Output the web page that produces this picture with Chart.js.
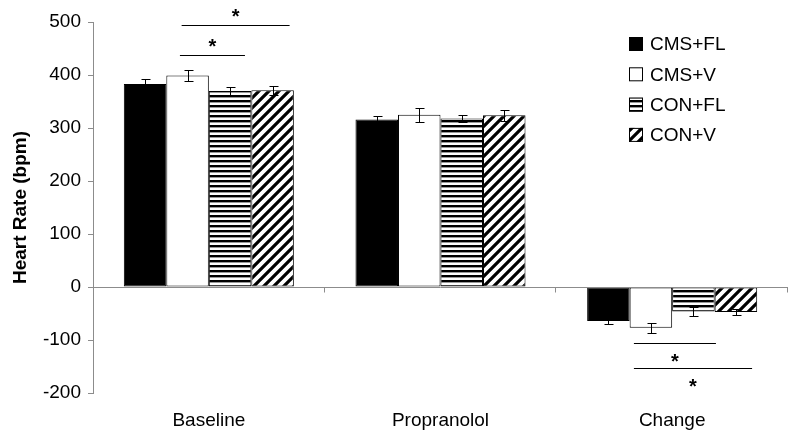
<!DOCTYPE html>
<html>
<head>
<meta charset="utf-8">
<script src="https://cdn.jsdelivr.net/npm/chart.js@4"></script>
<style>
  html, body { margin: 0; padding: 0; background: #fff; }
  #wrap { width: 800px; height: 439px; }
</style>
</head>
<body>
<div id="wrap"><canvas id="hr" width="800" height="439"></canvas></div>
<script>
const categories = ['Baseline', 'Propranolol', 'Change'];
const groupLabels = ['CMS+FL', 'CMS+V', 'CON+FL', 'CON+V'];

// mean heart rate (bpm) per group, in category order
const cmsFl = [383, 316, -64];
const cmsV = [399, 325, -77];
const conFl = [370, 318, -46];
const conV = [371, 324, -47];

// SEM per group
const cmsFlErr = [10, 6, 6];
const cmsVErr = [11, 13, 9];
const conFlErr = [7, 6, 8];
const conVErr = [9, 10, 6];

const yTicks = [-200, -100, 0, 100, 200, 300, 400, 500];

// significance brackets: category, span in bar slots (0..4 across a group), level in bpm
const sigBrackets = [
  { cat: 0, from: 1.32, to: 2.85, level: 437, side: 'above' },
  { cat: 0, from: 1.36, to: 3.9, level: 494, side: 'above' },
  { cat: 2, from: 1.1, to: 3.03, level: -105, side: 'below' },
  { cat: 2, from: 1.1, to: 3.88, level: -152, side: 'below' },
];

const AXIS_GRAY = '#8c8c8c';
const FONT = '"Liberation Sans", Arial, sans-serif';

function makePattern(kind) {
  const c = document.createElement('canvas');
  const ctx = c.getContext('2d');
  if (kind === 'hstripe') {
    c.width = 5; c.height = 5;
    ctx.fillStyle = '#fff';
    ctx.fillRect(0, 0, 5, 5);
    ctx.fillStyle = '#000';
    ctx.fillRect(0, 0, 5, 2.4);
  } else {
    const s = 10;
    c.width = s; c.height = s;
    ctx.fillStyle = '#fff';
    ctx.fillRect(0, 0, s, s);
    ctx.strokeStyle = '#000';
    ctx.lineWidth = 3.2;
    ctx.beginPath();
    ctx.moveTo(-s, s * 2); ctx.lineTo(s * 2, -s);
    ctx.moveTo(-s, s); ctx.lineTo(s, -s);
    ctx.moveTo(0, s * 2); ctx.lineTo(s * 2, 0);
    ctx.stroke();
  }
  return ctx.createPattern(c, 'repeat');
}

const fills = ['#000000', '#ffffff', makePattern('hstripe'), makePattern('diag')];
const series = [cmsFl, cmsV, conFl, conV];
const errs = [cmsFlErr, cmsVErr, conFlErr, conVErr];

// zero line with ticks at category boundaries
const zeroAxis = {
  id: 'zeroAxis',
  afterDatasetsDraw(chart) {
    const { ctx, chartArea: a, scales: { y } } = chart;
    const y0 = Math.round(y.getPixelForValue(0)) + 0.5;
    ctx.save();
    ctx.strokeStyle = AXIS_GRAY;
    ctx.lineWidth = 1;
    ctx.beginPath();
    ctx.moveTo(a.left, y0);
    ctx.lineTo(a.right, y0);
    const w = (a.right - a.left) / categories.length;
    for (let i = 1; i <= categories.length; i++) {
      const bx = Math.round(a.left + w * i) - 0.5;
      ctx.moveTo(bx, y0);
      ctx.lineTo(bx, y0 + 5);
    }
    ctx.stroke();
    ctx.restore();
  },
};

const errorBars = {
  id: 'errorBars',
  afterDatasetsDraw(chart) {
    const { ctx, scales: { y } } = chart;
    ctx.save();
    ctx.strokeStyle = '#000';
    ctx.lineWidth = 1;
    chart.data.datasets.forEach((ds, di) => {
      chart.getDatasetMeta(di).data.forEach((bar, i) => {
        const v = ds.data[i];
        const e = errs[di][i];
        const cx = Math.round(bar.x) + 0.5;
        const yHi = Math.round(y.getPixelForValue(v + e)) + 0.5;
        const yLo = Math.round(y.getPixelForValue(v - e)) + 0.5;
        ctx.beginPath();
        ctx.moveTo(cx, yHi); ctx.lineTo(cx, yLo);
        ctx.moveTo(cx - 4, yHi); ctx.lineTo(cx + 5, yHi);
        ctx.moveTo(cx - 4, yLo); ctx.lineTo(cx + 5, yLo);
        ctx.stroke();
      });
    });
    ctx.restore();
  },
};

const sigMarks = {
  id: 'sigMarks',
  afterDatasetsDraw(chart) {
    const { ctx, scales: { y } } = chart;
    const first = chart.getDatasetMeta(0).data;
    ctx.save();
    ctx.strokeStyle = '#000';
    ctx.fillStyle = '#000';
    ctx.lineWidth = 1;
    ctx.font = `bold 20px ${FONT}`;
    ctx.textAlign = 'center';
    sigBrackets.forEach((b) => {
      const bar = first[b.cat];
      const left = bar.x - bar.width / 2;
      const x1 = left + b.from * bar.width;
      const x2 = left + b.to * bar.width;
      const ly = Math.round(y.getPixelForValue(b.level)) + 0.5;
      ctx.beginPath();
      ctx.moveTo(x1, ly); ctx.lineTo(x2, ly);
      ctx.stroke();
      const sy = b.side === 'above' ? ly - 3 : ly + 24;
      ctx.fillText('*', (x1 + x2) / 2, sy);
    });
    ctx.restore();
  },
};

const boxLegend = {
  id: 'boxLegend',
  afterDraw(chart) {
    const { ctx } = chart;
    ctx.save();
    ctx.font = `19px ${FONT}`;
    ctx.textBaseline = 'middle';
    chart.data.datasets.forEach((ds, i) => {
      const cy = 44 + i * 30.3;
      ctx.fillStyle = ds.backgroundColor;
      ctx.fillRect(629, cy - 7, 14, 14);
      ctx.strokeStyle = '#000';
      ctx.lineWidth = 1;
      ctx.strokeRect(629.5, cy - 6.5, 13, 13);
      ctx.fillStyle = '#000';
      ctx.fillText(ds.label, 650, cy + 1);
    });
    ctx.restore();
  },
};

new Chart(document.getElementById('hr'), {
  type: 'bar',
  data: {
    labels: categories,
    datasets: groupLabels.map((label, i) => ({
      label,
      data: series[i],
      backgroundColor: fills[i],
      borderColor: '#000',
      borderWidth: 1,
      borderSkipped: false,
      barPercentage: 1,
      categoryPercentage: 0.734,
    })),
  },
  options: {
    responsive: false,
    animation: false,
    devicePixelRatio: 1,
    layout: { padding: { left: 9, right: 12, top: 22, bottom: 0 } },
    plugins: { legend: { display: false }, tooltip: { enabled: false } },
    scales: {
      x: {
        grid: { display: false, drawTicks: false },
        border: { display: false },
        ticks: { color: '#000', font: { family: FONT, size: 19 }, padding: 16 },
        afterFit(scale) { scale.height = 46; },
      },
      y: {
        min: yTicks[0],
        max: yTicks[yTicks.length - 1],
        afterBuildTicks(scale) { scale.ticks = yTicks.map((v) => ({ value: v })); },
        grid: { drawOnChartArea: false, drawTicks: true, tickLength: 5, color: AXIS_GRAY },
        border: { display: true, color: AXIS_GRAY },
        ticks: { color: '#000', font: { family: FONT, size: 19 }, padding: 7 },
        title: {
          display: true,
          text: 'Heart Rate (bpm)',
          color: '#000',
          font: { family: FONT, size: 19, weight: 'bold' },
          padding: 0,
        },
        afterFit(scale) { scale.width = 84; },
      },
    },
  },
  plugins: [zeroAxis, errorBars, sigMarks, boxLegend],
});
</script>
</body>
</html>
